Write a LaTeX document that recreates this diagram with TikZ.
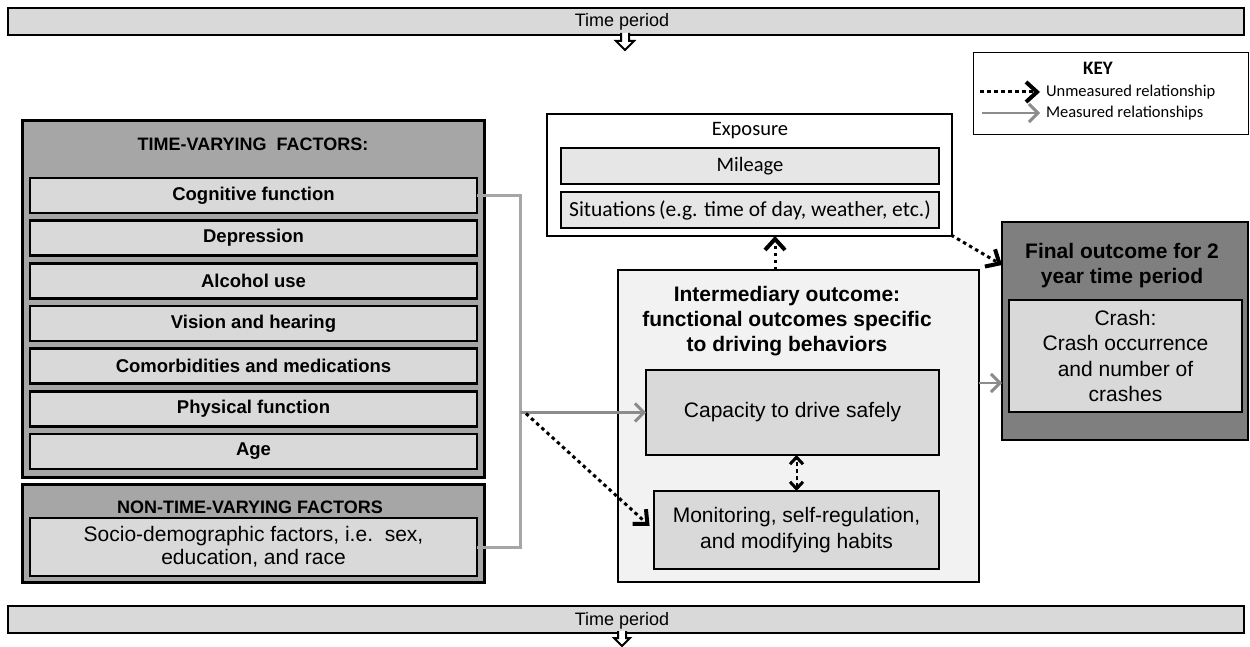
\documentclass[tikz,border=0pt]{standalone}
\usepackage{fontspec}
\setmainfont{Liberation Sans}
\newfontfamily\calibri{Carlito}
\usetikzlibrary{arrows.meta}
\definecolor{lightfill}{HTML}{D9D9D9}
\definecolor{midfill}{HTML}{A6A6A6}
\definecolor{darkfill}{HTML}{7F7F7F}
\definecolor{palefill}{HTML}{F2F2F2}
\definecolor{expfill}{HTML}{E6E6E6}
\definecolor{measgray}{HTML}{8C8C8C}
\definecolor{brackgray}{HTML}{A6A6A6}
\newcommand{\fsz}[2]{\fontsize{#1}{#2}\selectfont}
\begin{document}
\begin{tikzpicture}[x=1pt,y=-1pt,
  every node/.style={inner sep=0pt,outer sep=0pt},
  box/.style={draw=black,line width=2.5pt,align=center},
  barbox/.style={box,fill=lightfill,line width=2pt},
  itembox/.style={box,fill=lightfill,minimum width=447pt,minimum height=35pt,font=\bfseries\fsz{18.5}{22}},
  blockarrow/.style={draw=black,line width=2pt,fill=white,line join=miter},
  unm/.style={draw=black,line width=3pt,dash pattern=on 3.5pt off 3.5pt,
     -{Straight Barb[length=11pt,width=20pt,line width=4pt]}},
  meas/.style={draw=measgray,line width=2.5pt,
     -{Straight Barb[length=9pt,width=18pt,line width=3pt]}},
  dbl/.style={draw=black,line width=2pt,dash pattern=on 4pt off 3pt,
     {Straight Barb[length=7pt,width=13pt,line width=3pt]}-{Straight Barb[length=7pt,width=13pt,line width=3pt]}},
]
\useasboundingbox (0,0) rectangle (1250,647);

% time bars
\node[barbox,minimum width=1236pt,minimum height=27pt] (tp1) at (626,21.5) {};
\coordinate (ta) at (625,33);
\draw[blockarrow] ([xshift=-4pt]ta) -- ++(0,8) -- ++(-5,0) -- ++(9,9) -- ++(9,-9) -- ++(-5,0) -- ++(0,-8);
\node[font=\fsz{18}{21}] (tp1t) at (622,22) {Time period};

\node[barbox,minimum width=1236pt,minimum height=27pt] (tp2) at (626,619.5) {};
\coordinate (tb) at (622,631);
\draw[blockarrow] ([xshift=-4pt]tb) -- ++(0,7) -- ++(-4,0) -- ++(8,8) -- ++(8,-8) -- ++(-4,0) -- ++(0,-7);
\node[font=\fsz{18}{21}] (tp2t) at (622,621) {Time period};

% key
\node[draw=black,line width=1pt,minimum width=275pt,minimum height=82pt] (key) at (1110.5,94) {};
\node[font=\calibri\bfseries\fsz{19}{22}] (keyt) at (1098,68) {KEY};
\coordinate (k1) at (980,92); \coordinate (k2) at (1040,92);
\coordinate (k3) at (982,113); \coordinate (k4) at (1040,113);
\draw[unm] (k1) -- (k2);
\draw[meas] (k3) -- (k4);
\node[anchor=west,font=\calibri\fsz{16.5}{19}] (ku) at (1046,92) {Unmeasured relationship};
\node[anchor=west,font=\calibri\fsz{16.5}{19}] (km) at (1046,113) {Measured relationships};

% left boxes
\node[box,fill=midfill,line width=3pt,minimum width=462pt,minimum height=356pt] (tv) at (253,299) {};
\node[font=\bfseries\fsz{18}{21}] (tvt) at (253,144) {TIME-VARYING\ \ FACTORS:};
\node[itembox] (cog) at (253.5,195.5) {Cognitive function};
\node[itembox] (dep) at (253.5,238.2) {Depression};
\node[itembox] (alc) at (253.5,280.8) {Alcohol use};
\node[itembox] (vis) at (253.5,323.5) {Vision and hearing};
\node[itembox] (com) at (253.5,366.2) {Comorbidities and medications};
\node[itembox] (phy) at (253.5,408.8) {Physical function};
\node[itembox] (age) at (253.5,451.5) {Age};

\node[box,fill=midfill,line width=3pt,minimum width=462pt,minimum height=98pt] (ntv) at (253,533) {};
\node[font=\bfseries\fsz{18}{21}] (ntvt) at (250,507) {NON-TIME-VARYING FACTORS};
\node[box,fill=lightfill,minimum width=447pt,minimum height=58pt,font=\fsz{21}{23}] (soc) at (253.5,547) {Socio-demographic factors, i.e.\ \ sex,\\education, and race};

% exposure
\node[box,fill=white,minimum width=405pt,minimum height=122pt] (exp) at (749.5,175) {};
\node[font=\calibri\fsz{20.5}{23}] (expt) at (750,131) {Exposure};
\node[box,fill=expfill,minimum width=378pt,minimum height=36pt,font=\calibri\fsz{20.5}{23}] (mil) at (750,166) {Mileage};
\node[box,fill=expfill,minimum width=378pt,minimum height=36pt,font=\calibri\fsz{21.5}{23}] (sit) at (750,210) {Situations\,(e.g. time of day, weather, etc.)};

% intermediary
\node[box,fill=palefill,minimum width=361pt,minimum height=312pt] (inter) at (798.5,426) {};
\node[font=\bfseries\fsz{21}{25},align=center] (intt) at (787,321) {Intermediary outcome:\\functional outcomes specific\\to driving behaviors};
\node[box,fill=lightfill,minimum width=293pt,minimum height=85pt,font=\fsz{21}{25}] (cap) at (792.5,412.5) {Capacity to drive safely};
\node[box,fill=lightfill,minimum width=285pt,minimum height=78pt,font=\fsz{21}{26}] (mon) at (796.5,530) {Monitoring, self-regulation,\\and modifying habits};

% final
\node[box,fill=darkfill,minimum width=246pt,minimum height=218pt] (fin) at (1125,331) {};
\node[font=\bfseries\fsz{21}{25},align=center] (fint) at (1122,265.5) {Final outcome for 2\\year time period};
\node[box,fill=lightfill,minimum width=233pt,minimum height=112pt,font=\fsz{21}{25.3}] (crash) at (1125.5,356) {Crash:\\Crash occurrence\\and number of\\crashes};

% connectors
\coordinate (bx) at (520,412.5);
\draw[draw=brackgray,line width=3pt] (cog.east) -| (bx) |- (soc.east);
\draw[meas] (bx) -- (cap.west);
\draw[unm,shorten >=6pt] ([xshift=6pt,yshift=-1pt]bx) -- (mon.west);
\draw[unm] ([xshift=-23.5pt]inter.north) -- ([xshift=-23.5pt]inter.north |- exp.south);
\draw[unm] ([xshift=-1pt,yshift=1pt]exp.south east) -- ([yshift=-43pt]fin.north west);
\draw[meas] ([yshift=43pt]inter.east) -- ([yshift=43pt]inter.east -| fin.west);
\draw[dbl] (mon.north) -- (mon.north |- cap.south);
\end{tikzpicture}
\end{document}
